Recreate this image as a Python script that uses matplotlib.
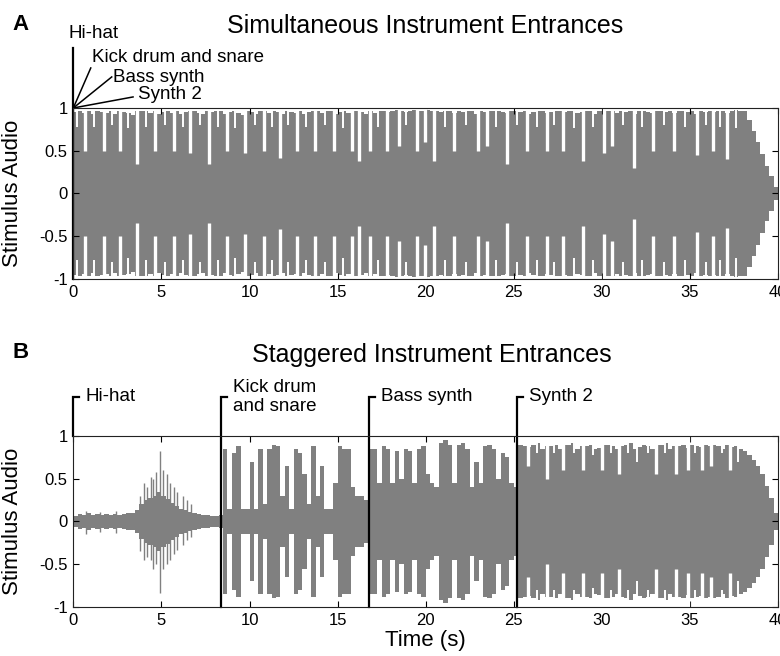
import matplotlib.pyplot as plt
import numpy as np

plt.rcParams['font.family'] = ['Liberation Sans', 'DejaVu Sans']

bin_width = 0.25  # seconds per envelope bin
wave_color = '#808080'

# peak amplitude of the waveform per 0.25 s bin (0 .. 40 s)
simultaneous_env = [
    0.95, 0.97, 0.94, 0.96, 0.93, 0.97, 0.95, 0.94,
    0.97, 0.93, 0.96, 0.95, 0.94, 0.92, 0.96, 0.97,
    0.96, 0.94, 0.97, 0.93, 0.95, 0.96, 0.94, 0.97,
    0.93, 0.95, 0.96, 0.97, 0.94, 0.93, 0.97, 0.95,
    0.96, 0.97, 0.93, 0.95, 0.96, 0.94, 0.92, 0.96,
    0.95, 0.93, 0.97, 0.96, 0.94, 0.97, 0.95, 0.93,
    0.97, 0.95, 0.94, 0.96, 0.93, 0.95, 0.97, 0.96,
    0.94, 0.96, 0.97, 0.93, 0.95, 0.97, 0.94, 0.96,
    0.97, 0.95, 0.93, 0.96, 0.94, 0.97, 0.96, 0.95,
    0.96, 0.98, 0.97, 0.95, 0.97, 0.98, 0.96, 0.97,
    0.98, 0.96, 0.97, 0.95, 0.97, 0.96, 0.94, 0.97,
    0.95, 0.97, 0.96, 0.93, 0.96, 0.95, 0.97, 0.96,
    0.97, 0.95, 0.94, 0.96, 0.97, 0.95, 0.96, 0.93,
    0.95, 0.97, 0.96, 0.94, 0.95, 0.97, 0.96, 0.95,
    0.97, 0.96, 0.94, 0.95, 0.97, 0.96, 0.93, 0.96,
    0.95, 0.96, 0.97, 0.94, 0.96, 0.95, 0.97, 0.93,
    0.96, 0.97, 0.95, 0.94, 0.96, 0.97, 0.95, 0.96,
    0.94, 0.96, 0.97, 0.95, 0.96, 0.93, 0.97, 0.95,
    0.96, 0.95, 0.97, 0.96, 0.94, 0.97, 0.98, 0.97,
    0.97, 0.86, 0.73, 0.60, 0.46, 0.32, 0.20, 0.08,
]

# drum-hit dips in the simultaneous stimulus: time (s) and depth reached
simultaneous_notch_t = [
    0.2, 0.68, 1.2, 1.72, 2.2, 2.67, 3.1, 3.6, 4.1, 4.65, 5.2, 5.69, 6.2, 6.64,
    7.2, 7.68, 8.2, 8.72, 9.2, 9.76, 10.3, 10.8, 11.3, 11.74, 12.2, 12.69,
    13.2, 13.73, 14.3, 14.77, 15.3, 15.8, 16.2, 16.85, 17.3, 17.8, 18.5, 18.9,
    19.5, 19.97, 20.5, 21.1, 21.6, 22.3, 22.99, 23.5, 24.0, 24.6, 25.2, 25.74,
    26.3, 26.87, 27.3, 27.8, 28.4, 28.95, 29.5, 30.1, 30.6, 31.2, 31.8, 32.3,
    32.9, 33.5, 34.1, 34.7, 35.4, 35.9, 36.3, 36.7, 37.1, 37.6,
]
simultaneous_notch_depth = [
    0.78, 0.50, 0.78, 0.50, 0.80, 0.50, 0.76, 0.35, 0.78, 0.50, 0.80, 0.50, 0.78, 0.47,
    0.80, 0.35, 0.78, 0.50, 0.76, 0.47, 0.80, 0.50, 0.78, 0.42, 0.80, 0.50,
    0.78, 0.50, 0.80, 0.50, 0.76, 0.50, 0.38, 0.50, 0.78, 0.50, 0.55, 0.80,
    0.50, 0.60, 0.38, 0.78, 0.50, 0.80, 0.50, 0.55, 0.78, 0.35, 0.80, 0.50,
    0.78, 0.50, 0.80, 0.50, 0.76, 0.38, 0.78, 0.47, 0.55, 0.80, 0.30, 0.78,
    0.50, 0.80, 0.50, 0.78, 0.45, 0.80, 0.50, 0.78, 0.40, 0.76,
]

staggered_env = [
    0.07, 0.09, 0.08, 0.10, 0.08, 0.09, 0.08, 0.09,
    0.08, 0.09, 0.08, 0.09, 0.10, 0.10, 0.14, 0.20,
    0.25, 0.28, 0.30, 0.34, 0.30, 0.26, 0.22, 0.18,
    0.15, 0.13, 0.11, 0.10, 0.09, 0.08, 0.08, 0.07,
    0.07, 0.08, 0.85, 0.15, 0.80, 0.88, 0.15, 0.15,
    0.70, 0.15, 0.85, 0.20, 0.85, 0.90, 0.88, 0.30,
    0.65, 0.15, 0.85, 0.80, 0.55, 0.20, 0.88, 0.30,
    0.65, 0.15, 0.15, 0.45, 0.88, 0.85, 0.85, 0.40,
    0.30, 0.30, 0.25, 0.85, 0.85, 0.45, 0.88, 0.85,
    0.45, 0.82, 0.50, 0.85, 0.82, 0.45, 0.85, 0.88,
    0.55, 0.45, 0.40, 0.92, 0.95, 0.90, 0.45, 0.90,
    0.92, 0.85, 0.40, 0.70, 0.45, 0.88, 0.90, 0.85,
    0.50, 0.80, 0.75, 0.45, 0.40, 0.90, 0.88, 0.87,
    0.90, 0.92, 0.85, 0.88, 0.88, 0.90, 0.85, 0.89,
    0.90, 0.92, 0.85, 0.88, 0.88, 0.90, 0.85, 0.86,
    0.89, 0.90, 0.88, 0.85, 0.88, 0.90, 0.92, 0.85,
    0.87, 0.90, 0.88, 0.85, 0.89, 0.90, 0.92, 0.85,
    0.88, 0.88, 0.90, 0.86, 0.90, 0.88, 0.87, 0.90,
    0.88, 0.90, 0.88, 0.85, 0.90, 0.87, 0.88, 0.85,
    0.82, 0.78, 0.72, 0.65, 0.55, 0.42, 0.28, 0.10,
]

# dips inside the Synth 2 part of the staggered stimulus
staggered_notch_t = [
    25.8, 26.3, 26.9, 27.3, 27.8, 28.4, 28.95, 29.5, 30.0, 30.5, 31.0, 31.5,
    32.0, 32.6, 33.1, 33.6, 34.2, 34.9, 35.3, 35.7, 36.2, 36.8, 37.3, 37.7,
]
staggered_notch_depth = [
    0.65, 0.80, 0.50, 0.80, 0.60, 0.80, 0.60, 0.78, 0.60, 0.80, 0.55, 0.80,
    0.70, 0.80, 0.55, 0.80, 0.55, 0.60, 0.80, 0.60, 0.65, 0.80, 0.60, 0.70,
]

# isolated hi-hat transients in the staggered stimulus
hihat_spike_t = [0.7, 1.5, 2.4, 3.8, 4.0, 4.2, 4.4, 4.55, 4.7, 4.9, 5.1, 5.3, 5.5, 5.7, 5.9, 6.2, 6.45, 6.7]
hihat_spike_up = [0.12, 0.11, 0.12, 0.30, 0.45, 0.40, 0.52, 0.50, 0.58, 0.82, 0.60, 0.55, 0.45, 0.40, 0.35, 0.30, 0.25, 0.20]
hihat_spike_dn = [0.15, 0.12, 0.13, 0.35, 0.45, 0.42, 0.45, 0.55, 0.50, 0.84, 0.55, 0.50, 0.45, 0.38, 0.33, 0.28, 0.22, 0.18]

instruments = ['Hi-hat', 'Kick drum and snare', 'Bass synth', 'Synth 2']
staggered_labels = ['Hi-hat', 'Kick drum\nand snare', 'Bass synth', 'Synth 2']
staggered_onsets = [0, 8.4, 16.8, 25.2]

xticks = [0, 5, 10, 15, 20, 25, 30, 35, 40]
yticks = [-1, -0.5, 0, 0.5, 1]
ytick_labels = ['-1', '-0.5', '0', '0.5', '1']


def draw_wave(ax, env, notch_t=(), notch_depth=()):
    env = np.asarray(env)
    edges = np.arange(len(env) + 1) * bin_width
    top = np.append(env, env[-1])
    ax.fill_between(edges, -top, top, step='post', color=wave_color, lw=0)
    if len(notch_t):
        depth = np.asarray(notch_depth)
        widths = np.where(depth < 0.7, 2.4, 1.4)
        ax.vlines(notch_t, depth, 1.0, color='white', lw=widths)
        ax.vlines(notch_t, -1.0, -depth, color='white', lw=widths)


def style_axes(ax):
    ax.set_xlim(0, 40)
    ax.set_ylim(-1, 1)
    ax.set_xticks(xticks)
    ax.set_yticks(yticks)
    ax.set_yticklabels(ytick_labels)
    ax.tick_params(direction='in', length=4, width=0.8, top=True, right=True,
                   labelsize=12, pad=4)
    for s in ax.spines.values():
        s.set_linewidth(0.8)
        s.set_color('#222222')
    ax.set_ylabel('Stimulus Audio', fontsize=16)
    ax.yaxis.set_label_coords(-0.072, 0.5)


fig = plt.figure(figsize=(7.8, 6.56), dpi=100)
ax_a = fig.add_axes([0.094, 0.5747, 0.9035, 0.2607])
ax_b = fig.add_axes([0.094, 0.0747, 0.9035, 0.2607])

# panel A
draw_wave(ax_a, simultaneous_env, simultaneous_notch_t, simultaneous_notch_depth)
style_axes(ax_a)
ax_a.plot([0, 0], [-1, 1.70], color='black', lw=1.6, clip_on=False)
ax_a.text(-0.30, 1.87, instruments[0], fontsize=13.5, va='center', ha='left')
ends = [(0.99, 1.468), (2.18, 1.363), (3.39, 1.129)]
text_pos = [(1.06, 1.585), (2.26, 1.351), (3.68, 1.152)]
for name, (ex, ey), (tx, ty) in zip(instruments[1:], ends, text_pos):
    ax_a.plot([0, ex], [1, ey], color='black', lw=1.1, clip_on=False)
    ax_a.text(tx, ty, name, fontsize=13.5, va='center', ha='left')

# panel B
draw_wave(ax_b, staggered_env, staggered_notch_t, staggered_notch_depth)
ax_b.vlines(hihat_spike_t, [-d for d in hihat_spike_dn], hihat_spike_up,
            color=wave_color, lw=1.0)
style_axes(ax_b)
ax_b.set_xlabel('Time (s)', fontsize=16, labelpad=2)
for onset, name in zip(staggered_onsets, staggered_labels):
    y0 = 1 if onset == 0 else -1
    ax_b.plot([onset, onset, onset + 0.35], [y0, 1.456, 1.456], color='black',
              lw=1.6, clip_on=False, solid_joinstyle='miter')
    ax_b.text(onset + 0.68, 1.456, name, fontsize=13.5, va='center', ha='left',
              linespacing=1.1)

fig.text(0.545, 0.9497, 'Simultaneous Instrument Entrances', fontsize=18,
         ha='center', va='baseline')
fig.text(0.553, 0.4482, 'Staggered Instrument Entrances', fontsize=18,
         ha='center', va='baseline')
fig.text(0.016, 0.963, 'A', fontsize=16, fontweight='bold', va='center')
fig.text(0.016, 0.462, 'B', fontsize=16, fontweight='bold', va='center')

fig.savefig('out.png', dpi=100)
